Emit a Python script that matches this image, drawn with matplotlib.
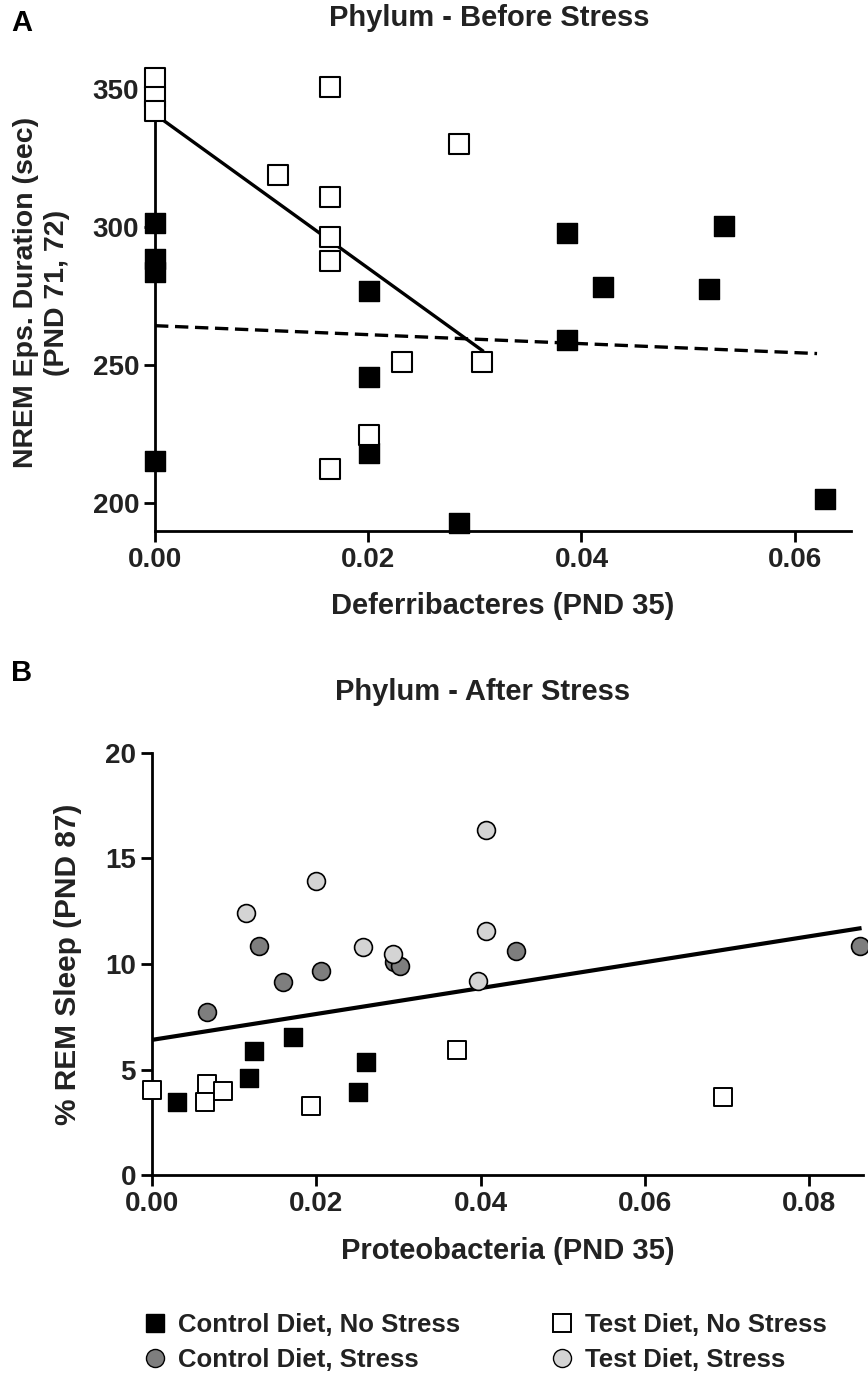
import matplotlib
matplotlib.use("Agg")
import matplotlib.pyplot as plt
from matplotlib.lines import Line2D

FONT = ['Liberation Sans', 'DejaVu Sans']

# Panel A - Deferribacteres (PND 35) vs NREM episode duration
a_ctrl_x = [0.0, 0.0, 0.0, 0.0, 0.0201, 0.0201, 0.0201, 0.0285, 0.0386, 0.0386, 0.0420, 0.0534, 0.0520, 0.0628]
a_ctrl_y = [301.6, 288.7, 283.8, 215.4, 277.0, 245.9, 218.4, 192.8, 298.1, 259.2, 278.6, 300.5, 277.7, 201.6]
a_test_x = [0.0, 0.0, 0.0, 0.0164, 0.0115, 0.0164, 0.0164, 0.0164, 0.0285, 0.0232, 0.0307, 0.0201, 0.0164]
a_test_y = [354.3, 347.2, 342.2, 351.0, 319.1, 310.9, 296.7, 287.7, 330.4, 251.4, 251.4, 224.8, 212.3]
a_fit_test_x = [0.0, 0.0307]
a_fit_test_y = [341.0, 255.4]
a_fit_ctrl_x = [0.0, 0.0621]
a_fit_ctrl_y = [264.4, 254.3]

# Panel B - Proteobacteria (PND 35) vs % REM sleep
b_ctrl_ns_x = [0.0030, 0.0118, 0.0124, 0.0172, 0.0251, 0.0260]
b_ctrl_ns_y = [3.45, 4.61, 5.90, 6.57, 3.94, 5.35]
b_test_ns_x = [0.0, 0.0067, 0.0065, 0.0087, 0.0194, 0.0371, 0.0695]
b_test_ns_y = [4.05, 4.30, 3.45, 4.00, 3.30, 5.95, 3.72]
b_ctrl_s_x = [0.0067, 0.0130, 0.0159, 0.0206, 0.0294, 0.0302, 0.0443, 0.0861]
b_ctrl_s_y = [7.73, 10.85, 9.13, 9.69, 10.09, 9.93, 10.62, 10.85]
b_test_s_x = [0.0115, 0.0200, 0.0257, 0.0293, 0.0407, 0.0407, 0.0397]
b_test_s_y = [12.43, 13.92, 10.80, 10.47, 16.37, 11.58, 9.18]
b_fit_x = [0.0, 0.0861]
b_fit_y = [6.41, 11.69]

a_xticks = [0.0, 0.02, 0.04, 0.06]
a_yticks = [200, 250, 300, 350]
b_xticks = [0.0, 0.02, 0.04, 0.06, 0.08]
b_yticks = [0, 5, 10, 15, 20]

DARK = '#7e7e7e'
LIGHT = '#d4d4d4'
INK = '#222222'

fig = plt.figure(figsize=(8.68, 13.81), dpi=100)

def style_axes(ax):
    for s in ['top', 'right']:
        ax.spines[s].set_visible(False)
    for s in ['left', 'bottom']:
        ax.spines[s].set_linewidth(2.0)
    ax.tick_params(width=2.0, length=8, direction='out', pad=3.5)
    for lab in ax.get_xticklabels() + ax.get_yticklabels():
        lab.set_family(FONT); lab.set_fontweight('bold'); lab.set_fontsize(20); lab.set_color(INK)

# ---- A ----
axA = fig.add_axes([0.1786, 0.6155, 0.802, 0.3317])
axA.plot(a_fit_test_x, a_fit_test_y, color='black', lw=2.4, zorder=2)
axA.plot(a_fit_ctrl_x, a_fit_ctrl_y, color='black', lw=2.4, ls=(0, (4, 2)), zorder=2)
axA.scatter(a_ctrl_x, a_ctrl_y, marker='s', s=200, c='black', edgecolors='black', linewidths=1.0, zorder=3, clip_on=False)
axA.scatter(a_test_x, a_test_y, marker='s', s=200, c='white', edgecolors='black', linewidths=1.5, zorder=3, clip_on=False)
axA.set_xlim(0, 0.0653)
axA.set_ylim(190, 356)
axA.set_xticks(a_xticks)
axA.set_xticklabels(['0.00', '0.02', '0.04', '0.06'])
axA.set_yticks(a_yticks)
style_axes(axA)
axA.set_xlabel('Deferribacteres (PND 35)', family=FONT, fontweight='bold', fontsize=21, labelpad=14, color=INK)
axA.set_ylabel('NREM Eps. Duration (sec)\n(PND 71, 72)', family=FONT, fontweight='bold', fontsize=20.5,
               linespacing=1.25, multialignment='center', color=INK)
axA.yaxis.set_label_coords(-0.122, 0.52)
fig.text(0.564, 0.987, 'Phylum - Before Stress', family=FONT, fontweight='bold', fontsize=21, ha='center', va='center', color=INK)
fig.text(0.013, 0.983, 'A', family=FONT, fontweight='bold', fontsize=21, ha='left', va='center')

# ---- B ----
axB = fig.add_axes([0.175, 0.149, 0.819, 0.3058])
axB.plot(b_fit_x, b_fit_y, color='black', lw=3.0, zorder=2)
axB.scatter(b_ctrl_ns_x, b_ctrl_ns_y, marker='s', s=156, c='black', edgecolors='black', linewidths=1.0, zorder=3, clip_on=False)
axB.scatter(b_test_ns_x, b_test_ns_y, marker='s', s=156, c='white', edgecolors='black', linewidths=1.4, zorder=3, clip_on=False)
axB.scatter(b_ctrl_s_x, b_ctrl_s_y, marker='o', s=165, c=DARK, edgecolors='black', linewidths=1.2, zorder=3, clip_on=False)
axB.scatter(b_test_s_x, b_test_s_y, marker='o', s=165, c=LIGHT, edgecolors='black', linewidths=1.2, zorder=4, clip_on=False)
axB.set_xlim(0, 0.0865)
axB.set_ylim(0, 20)
axB.set_xticks(b_xticks)
axB.set_xticklabels(['0.00', '0.02', '0.04', '0.06', '0.08'])
axB.set_yticks(b_yticks)
style_axes(axB)
axB.set_xlabel('Proteobacteria (PND 35)', family=FONT, fontweight='bold', fontsize=21, labelpad=14, color=INK)
axB.set_ylabel('% REM Sleep (PND 87)', family=FONT, fontweight='bold', fontsize=21.5, color=INK)
axB.yaxis.set_label_coords(-0.098, 0.5)
fig.text(0.556, 0.499, 'Phylum - After Stress', family=FONT, fontweight='bold', fontsize=21, ha='center', va='center', color=INK)
fig.text(0.013, 0.513, 'B', family=FONT, fontweight='bold', fontsize=21, ha='left', va='center')

# ---- legend ----
handles = [
    Line2D([], [], ls='none', marker='s', ms=13, mfc='black', mec='black'),
    Line2D([], [], ls='none', marker='o', ms=13, mfc=DARK, mec='black'),
    Line2D([], [], ls='none', marker='s', ms=13, mfc='white', mec='black', mew=1.4),
    Line2D([], [], ls='none', marker='o', ms=13, mfc=LIGHT, mec='black'),
]
labels = ['Control Diet, No Stress', 'Control Diet, Stress', 'Test Diet, No Stress', 'Test Diet, Stress']
fig.legend(handles, labels, loc='center', bbox_to_anchor=(0.559, 0.028), ncol=2, frameon=False,
           prop={'family': FONT, 'weight': 'bold', 'size': 18.5}, columnspacing=3.5,
           handletextpad=0.45, labelspacing=0.45, handlelength=0.9, labelcolor=INK)

fig.savefig('out.png', dpi=100)
